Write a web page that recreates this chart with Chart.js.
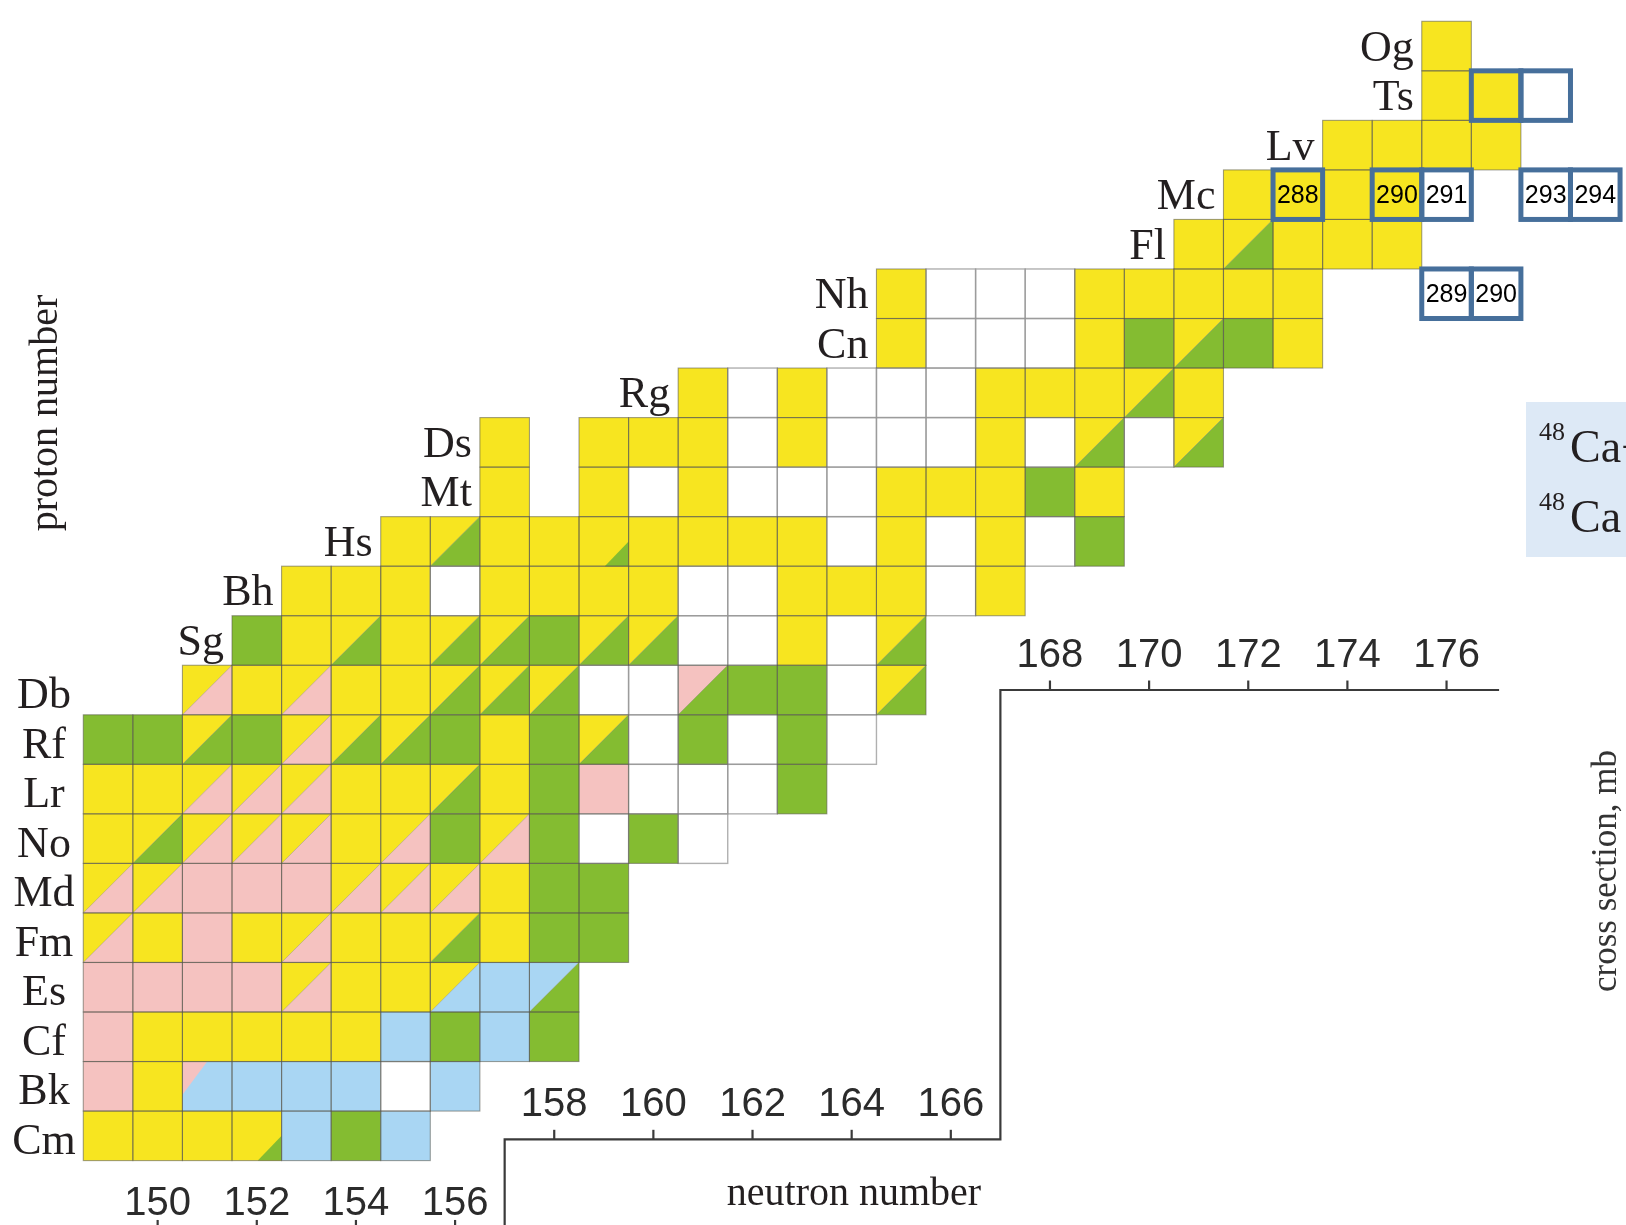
<!DOCTYPE html>
<html>
<head>
<meta charset="utf-8">
<title>Superheavy nuclides</title>
<script src="https://cdn.jsdelivr.net/npm/chart.js@4.4.1/dist/chart.umd.min.js"></script>
<style>
  html, body { margin: 0; padding: 0; background: #fff; }
  #wrap { width: 1626px; height: 1225px; }
</style>
</head>
<body>
<div id="wrap"><canvas id="nuclides" width="1626" height="1225"></canvas></div>
<script>
// rows of the chart, bottom (Cm) to top (Og)
const elements = ['Cm', 'Bk', 'Cf', 'Es', 'Fm', 'Md', 'No', 'Lr', 'Rf', 'Db', 'Sg', 'Bh',
                  'Hs', 'Mt', 'Ds', 'Rg', 'Cn', 'Nh', 'Fl', 'Mc', 'Lv', 'Ts', 'Og'];
const protonNumbers = [96, 97, 98, 99, 100, 101, 102, 103, 104, 105, 106, 107,
                       108, 109, 110, 111, 112, 113, 114, 115, 116, 117, 118];
const firstNeutron = [149, 149, 149, 149, 149, 149, 149, 149, 149, 151, 152, 153,
                      155, 157, 157, 161, 165, 165, 171, 172, 174, 176, 176];

// one code per neutron number, starting at firstNeutron
// Y yellow, G green, P pink, B blue, W white, '.' no cell
// two capitals = upper-left / lower-right halves, small letter = small corner
const cellCodes = [
  'Y Y Y Yg B G B',
  'P Y Bp B B B W B',
  'P Y Y Y Y Y B G B G',
  'P P P P YP Y Y YB B BG',
  'YP Y P Y YP Y Y YG Y G G',
  'YP YP P P P YP YP YP Y G G',
  'Y YG YP YP YP Y YP G YP G W G W',
  'Y Y YP YP YP Y Y YG Y G P W W W G',
  'G G YG G YP YG YG G Y G YG W G W G W',
  'YP Y YP Y Y YG YG YG W W PG G G W YG',
  'G Y YG Y YG YG G YG YG W W Y W YG',
  'Y Y Y W Y Y Y Y W W Y Y Y W Y',
  'Y YG Y Y Yg Y Y Y Y W Y W Y W G',
  'Y . Y W Y W W W Y Y Y G Y',
  'Y . Y Y Y W Y W W W Y W YG W YG',
  'Y W Y W W W Y Y Y YG Y',
  'Y W W W Y G YG G Y',
  'Y W W W Y Y Y Y Y . . W W',
  'Y YG Y Y Y',
  'Y Y Y Y W . W W',
  'Y Y Y Y',
  'Y Y W',
  'Y'
];

// framed isotopes (mass numbers written inside)
const boxNeutron = [173, 175, 176, 178, 179, 176, 177, 177, 178];
const boxProton = [115, 115, 115, 115, 115, 113, 113, 117, 117];
const boxMass = ['288', '290', '291', '293', '294', '289', '290', '', ''];

// neutron-number axis, three steps of the frame
const tickGroups = [[150, 152, 154, 156], [158, 160, 162, 164, 166], [168, 170, 172, 174, 176]];
const stepLevel = [94.11, 95.93, 105.0];
const stepCorner = [157, 167, 177.06];

const palette = { Y: '#f7e520', G: '#84bc31', P: '#f5c2c0', B: '#a9d6f3', W: '#ffffff' };
const serif = '"Liberation Serif", "Times New Roman", serif';
const sans = '"Liberation Sans", Arial, sans-serif';

const cells = [];
elements.forEach((el, i) => {
  cellCodes[i].split(' ').forEach((code, k) => {
    if (code !== '.') cells.push({ x: firstNeutron[i] + k, y: protonNumbers[i], code: code });
  });
});

function cellBox(chart, n, z) {
  const sx = chart.scales.x, sy = chart.scales.y;
  const l = sx.getPixelForValue(n - 0.5), r = sx.getPixelForValue(n + 0.5);
  const t = sy.getPixelForValue(z + 0.5), b = sy.getPixelForValue(z - 0.5);
  return { l: l, r: r, t: t, b: b, w: r - l, h: b - t };
}

function poly(ctx, pts, fill) {
  ctx.beginPath();
  ctx.moveTo(pts[0][0], pts[0][1]);
  for (let i = 1; i < pts.length; i++) ctx.lineTo(pts[i][0], pts[i][1]);
  ctx.closePath();
  ctx.fillStyle = fill;
  ctx.fill();
}

const nuclidePlugin = {
  id: 'nuclides',
  beforeDatasetsDraw(chart) {
    const ctx = chart.ctx;
    const data = chart.data.datasets[0].data;
    ctx.save();

    // cell fills
    data.forEach(d => {
      const c = cellBox(chart, d.x, d.y);
      const code = d.code;
      if (code.length === 1) {
        ctx.fillStyle = palette[code];
        ctx.fillRect(c.l, c.t, c.w, c.h);
      } else if (code[1] === code[1].toUpperCase()) {
        poly(ctx, [[c.l, c.t], [c.r, c.t], [c.l, c.b]], palette[code[0]]);
        poly(ctx, [[c.r, c.t], [c.r, c.b], [c.l, c.b]], palette[code[1]]);
        ctx.beginPath();
        ctx.moveTo(c.l, c.b);
        ctx.lineTo(c.r, c.t);
        ctx.strokeStyle = 'rgba(110,110,80,0.45)';
        ctx.lineWidth = 0.8;
        ctx.stroke();
      } else {
        ctx.fillStyle = palette[code[0]];
        ctx.fillRect(c.l, c.t, c.w, c.h);
        const small = palette[code[1].toUpperCase()];
        if (code[0] === 'B') {
          poly(ctx, [[c.l, c.t], [c.l + 0.5 * c.w, c.t], [c.l, c.t + 0.67 * c.h]], small);
        } else {
          poly(ctx, [[c.r - 0.48 * c.w, c.b], [c.r, c.b], [c.r, c.b - 0.5 * c.h]], small);
        }
      }
    });

    // borders: white cells light, coloured cells darker
    data.filter(d => d.code === 'W').forEach(d => {
      const c = cellBox(chart, d.x, d.y);
      ctx.strokeStyle = 'rgba(150,150,150,0.75)';
      ctx.lineWidth = 1.4;
      ctx.strokeRect(c.l, c.t, c.w, c.h);
    });
    data.filter(d => d.code !== 'W').forEach(d => {
      const c = cellBox(chart, d.x, d.y);
      ctx.strokeStyle = 'rgba(85,85,75,0.55)';
      ctx.lineWidth = 1.1;
      ctx.strokeRect(c.l, c.t, c.w, c.h);
    });

    // framed isotopes
    boxNeutron.forEach((n, i) => {
      const c = cellBox(chart, n, boxProton[i]);
      ctx.strokeStyle = '#466f9b';
      ctx.lineWidth = 5;
      ctx.strokeRect(c.l, c.t, c.w, c.h);
      if (boxMass[i]) {
        ctx.fillStyle = '#000';
        ctx.font = '25px ' + sans;
        ctx.textAlign = 'center';
        ctx.textBaseline = 'middle';
        ctx.fillText(boxMass[i], (c.l + c.r) / 2, (c.t + c.b) / 2 + 1);
      }
    });

    // element symbols
    ctx.fillStyle = '#231f20';
    ctx.font = '44px ' + serif;
    ctx.textBaseline = 'alphabetic';
    elements.forEach((el, i) => {
      const z = protonNumbers[i];
      const cy = chart.scales.y.getPixelForValue(z);
      if (z <= 105) {
        ctx.textAlign = 'center';
        ctx.fillText(el, chart.chartArea.left + 44, cy + 18);
      } else {
        ctx.textAlign = 'right';
        ctx.fillText(el, chart.scales.x.getPixelForValue(firstNeutron[i] - 0.5) - 8, cy + 14.5);
      }
    });
    ctx.restore();
  },
  afterDatasetsDraw(chart) {
    const ctx = chart.ctx;
    const sx = chart.scales.x, sy = chart.scales.y;
    const area = chart.chartArea;
    ctx.save();

    // stepped frame of the cross-section panel
    ctx.strokeStyle = '#3a3a3a';
    ctx.lineWidth = 2.2;
    ctx.beginPath();
    ctx.moveTo(sx.getPixelForValue(148), sy.getPixelForValue(stepLevel[0]));
    for (let i = 0; i < stepLevel.length; i++) {
      ctx.lineTo(sx.getPixelForValue(stepCorner[i]), sy.getPixelForValue(stepLevel[i]));
      if (i + 1 < stepLevel.length) {
        ctx.lineTo(sx.getPixelForValue(stepCorner[i]), sy.getPixelForValue(stepLevel[i + 1]));
      }
    }
    ctx.stroke();

    // ticks and labels
    const labelGap = [14, 23.3, 23.3];
    ctx.font = '40px ' + sans;
    ctx.fillStyle = '#2b2b2b';
    ctx.textAlign = 'center';
    ctx.textBaseline = 'alphabetic';
    tickGroups.forEach((group, g) => {
      const ly = sy.getPixelForValue(stepLevel[g]);
      group.forEach(v => {
        const px = sx.getPixelForValue(v);
        ctx.beginPath();
        ctx.moveTo(px, ly);
        ctx.lineTo(px, ly - 9.5);
        ctx.stroke();
        ctx.fillText(String(v), px, ly - labelGap[g]);
      });
    });

    // axis titles
    ctx.fillStyle = '#231f20';
    ctx.font = '40px ' + serif;
    ctx.fillText('neutron number', area.left + 854, area.top + 1205);

    ctx.save();
    ctx.translate(area.left + 46, area.top + 413);
    ctx.rotate(-Math.PI / 2);
    ctx.textBaseline = 'middle';
    ctx.fillText('proton number', 0, 0);
    ctx.restore();

    ctx.save();
    ctx.translate(area.left + 1607, area.top + 871);
    ctx.rotate(-Math.PI / 2);
    ctx.textBaseline = 'middle';
    ctx.font = '35px ' + serif;
    ctx.fillStyle = '#333';
    ctx.fillText('cross section, mb', 0, 0);
    ctx.restore();

    // reaction legend box (cut at the right edge)
    ctx.fillStyle = '#dde9f6';
    ctx.fillRect(area.left + 1526, area.top + 402, 110, 155);
    ctx.fillStyle = '#231f20';
    ctx.textAlign = 'left';
    ctx.font = '26px ' + serif;
    ctx.fillText('48', area.left + 1539, area.top + 440);
    ctx.fillText('48', area.left + 1539, area.top + 510);
    ctx.font = '46px ' + serif;
    ctx.fillText('Ca+', area.left + 1570, area.top + 462);
    ctx.fillText('Ca', area.left + 1570, area.top + 532);
    ctx.restore();
  }
};

new Chart(document.getElementById('nuclides'), {
  type: 'scatter',
  data: {
    datasets: [{ data: cells, pointRadius: 0, pointHoverRadius: 0, showLine: false }]
  },
  options: {
    responsive: false,
    devicePixelRatio: 1,
    animation: false,
    layout: { padding: 0 },
    events: [],
    plugins: { legend: { display: false }, tooltip: { enabled: false }, title: { display: false } },
    scales: {
      x: { type: 'linear', min: 146.82, max: 179.62, display: false },
      y: { type: 'linear', min: 94.20, max: 118.93, display: false }
    }
  },
  plugins: [nuclidePlugin]
});
</script>
</body>
</html>
